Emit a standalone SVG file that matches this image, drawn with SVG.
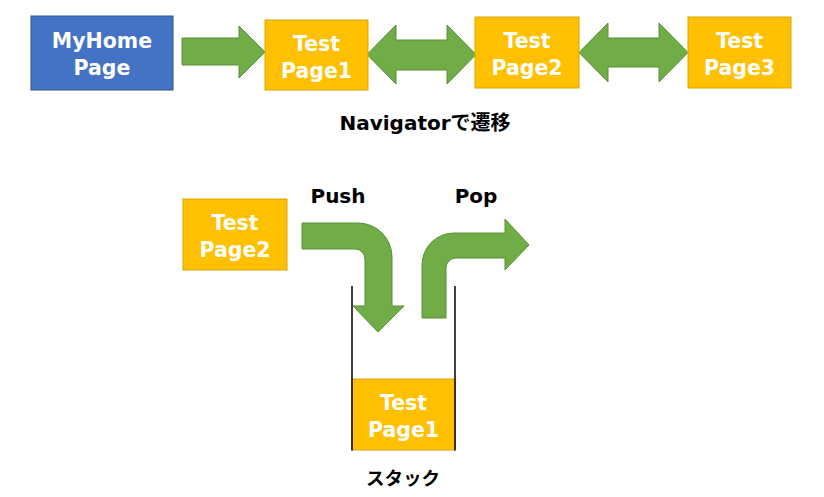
<svg xmlns="http://www.w3.org/2000/svg" width="824" height="497" viewBox="0 0 824 497">
<style>
.blue{fill:#4472C4;stroke:#2F528F;stroke-width:1}
.gold{fill:#FFC000;stroke:#D9A300;stroke-width:1}
.arrow{fill:#70AD47;stroke:#5A8F38;stroke-width:1;stroke-linejoin:miter}
.bt{font-family:"DejaVu Sans","Noto Sans CJK JP",sans-serif;font-weight:bold;font-size:20.5px;fill:#FFFFFF;text-anchor:middle}
.lbl{font-family:"DejaVu Sans","Noto Sans CJK JP",sans-serif;font-weight:bold;font-size:20px;fill:#000000;text-anchor:middle}
.wall{stroke:#000000;stroke-width:1.5;fill:none}
</style>
<rect width="824" height="497" fill="#FFFFFF"/>
<g id="connectors">
<path class="arrow" d="M182,38 L239,38 L239,26 L265,52 L239,78 L239,65 L182,65 Z"/>
<path class="arrow" d="M367,54.5 L396,25 L396,40 L447,40 L447,25 L476,54.5 L447,84 L447,70 L396,70 L396,84 Z"/>
<path class="arrow" d="M579,52.5 L608,23 L608,38 L659,38 L659,23 L688,52.5 L659,82 L659,67 L608,67 L608,82 Z"/>
<path id="push" class="arrow" d="M302,223 L358,223 A34,34 0 0 1 392,257 L392,306 L404,306 L378,332 L353,306 L365,306 L365,259 A10,10 0 0 0 355,249 L302,249 Z"/>
<path id="pop" class="arrow" d="M422,318 L422,265 A32,32 0 0 1 454,233 L505,233 L505,219 L529,245 L505,270 L505,258 L456,258 A10,10 0 0 0 446,268 L446,318 Z"/>
</g>
<g id="myhome">
<rect class="blue" x="31" y="16" width="142" height="74"/>
<text class="bt" x="102" y="48">MyHome</text>
<text class="bt" x="102" y="75">Page</text>
</g>
<g id="page1">
<rect class="gold" x="265" y="20" width="103" height="70"/>
<text class="bt" x="316.5" y="51">Test</text>
<text class="bt" x="316.5" y="78">Page1</text>
</g>
<g id="page2">
<rect class="gold" x="475" y="17" width="104" height="71"/>
<text class="bt" x="527" y="48">Test</text>
<text class="bt" x="527" y="75">Page2</text>
</g>
<g id="page3">
<rect class="gold" x="688" y="17" width="103" height="71"/>
<text class="bt" x="739.5" y="48">Test</text>
<text class="bt" x="739.5" y="75">Page3</text>
</g>
<g id="nav-label">
<text class="lbl" x="425" y="130">Navigatorで遷移</text>
</g>
<g id="push-label"><text class="lbl" x="338" y="203">Push</text></g>
<g id="pop-label"><text class="lbl" x="476" y="203">Pop</text></g>
<g id="page2-bottom">
<rect class="gold" x="183" y="199" width="104" height="71"/>
<text class="bt" x="235" y="230">Test</text>
<text class="bt" x="235" y="257">Page2</text>
</g>
<g id="stack">
<rect class="gold" x="352" y="379" width="103" height="71"/>
<text class="bt" x="403.5" y="410">Test</text>
<text class="bt" x="403.5" y="437">Page1</text>
<line class="wall" x1="352" y1="286" x2="352" y2="450.5"/>
<line class="wall" x1="455" y1="286" x2="455" y2="450.5"/>
</g>
<g id="stack-label">
<text class="lbl" x="403" y="485" style="font-size:18.5px">スタック</text>
</g>
</svg>
